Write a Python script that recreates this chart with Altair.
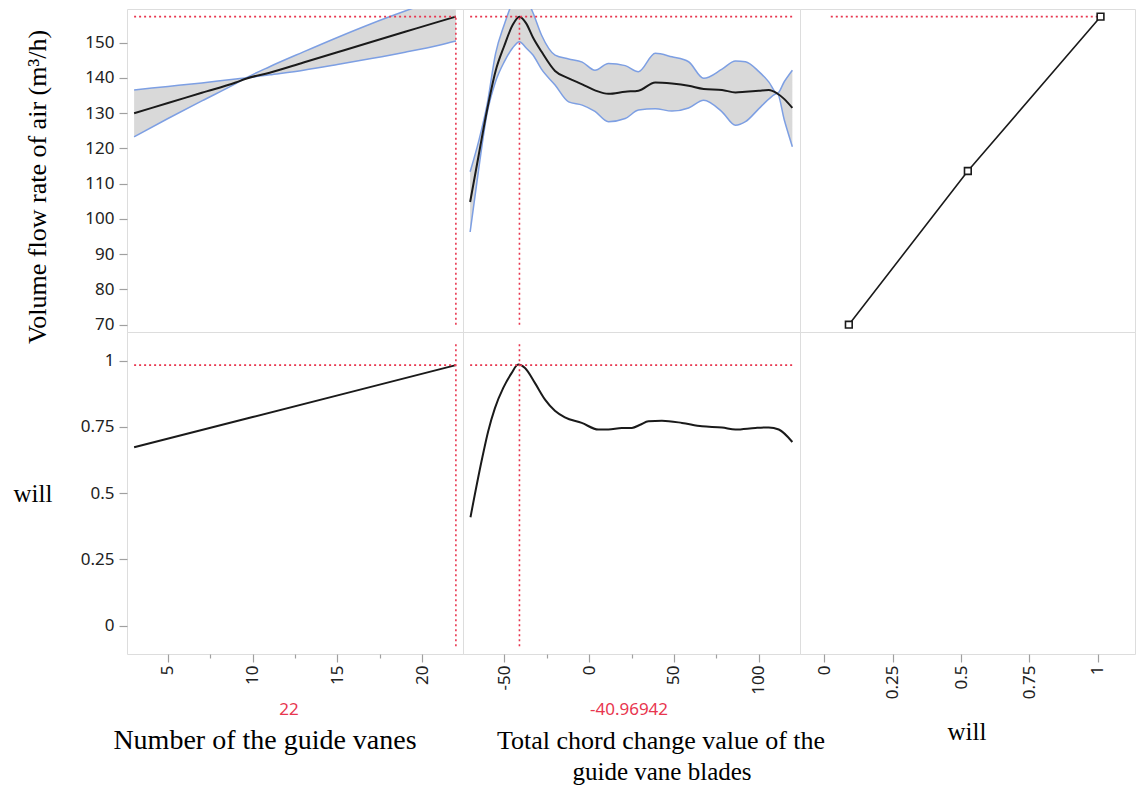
import altair as alt
import pandas as pd

# ---------------- data ----------------
# Panel 1: Number of the guide vanes
vanes_x = [3, 5, 7, 9, 9.6, 11, 13, 15, 17, 19, 21, 22]
vanes_flow = [130.0, 132.9, 135.8, 138.7, 139.8, 141.5, 144.4, 147.3, 150.2, 153.1, 156.0, 157.4]
vanes_edge1 = [136.6, 137.6, 138.6, 139.7, 140.0, 140.9, 142.2, 143.8, 145.5, 147.3, 149.3, 150.5]
vanes_edge2 = [123.3, 128.5, 133.5, 138.4, 140.0, 143.2, 147.4, 151.5, 155.4, 159.0, 162.4, 164.3]
vanes_will_x = [3, 10, 16, 22]
vanes_will = [0.673, 0.787, 0.885, 0.983]

# Panel 2: Total chord change value of the guide vane blades
chord_x = [-70, -65, -60, -55, -50, -45, -41, -37, -33, -28, -20, -12, -4, 3.5, 11.4,
           21.3, 29.1, 39, 48.8, 58.6, 67.5, 78.3, 86.2, 92.1, 100, 105.8, 110.8, 115, 119.7]
chord_flow = [104.8, 118.0, 131.0, 142.0, 149.0, 155.0, 157.4, 155.5, 151.5, 147.5, 142.0, 139.9, 138.2, 136.5, 135.5,
              136.1, 136.4, 138.7, 138.4, 137.8, 136.9, 136.6, 135.9, 136.1, 136.4, 136.6, 135.6, 134.0, 131.5]
chord_lower = [96.3, 114.0, 130.0, 139.0, 144.5, 148.5, 150.3, 148.5, 146.5, 142.5, 138.0, 133.2, 132.3, 130.5, 127.6,
               128.5, 130.9, 131.3, 130.6, 131.5, 133.7, 130.4, 126.6, 127.6, 131.3, 134.0, 135.6, 128.0, 120.5]
chord_upper = [113.4, 122.0, 132.5, 147.0, 155.0, 161.5, 164.5, 162.5, 158.5, 152.2, 146.5, 145.4, 144.5, 142.2, 144.1,
               143.5, 141.8, 147.0, 146.0, 144.6, 139.9, 142.5, 144.8, 144.6, 141.8, 138.9, 135.6, 139.0, 142.2]
chord_will_x = [-69.8, -63.3, -59.4, -55.4, -50.5, -45.6, -41.7, -37.7, -31.8, -25.9, -20.1, -14.2, -4.3, 5.5,
                11.4, 19.3, 25.2, 30.1, 35.0, 42.9, 54.7, 66.5, 78.3, 86.2, 98, 105.8, 111.7, 119.7]
chord_will = [0.409, 0.620, 0.733, 0.821, 0.897, 0.953, 0.985, 0.972, 0.915, 0.853, 0.811, 0.786, 0.765, 0.740,
              0.740, 0.746, 0.746, 0.758, 0.771, 0.773, 0.765, 0.752, 0.748, 0.740, 0.746, 0.748, 0.740, 0.693]

# Panel 3: desirability ("will") versus volume flow rate
will_x = [0.09, 0.525, 1.01]
will_flow = [70.0, 113.6, 157.4]

# Current settings (red cross-hairs)
current_vanes = 22
current_chord = -40.96942
current_flow = 157.4
current_will = 0.983
current_labels = ["22", "-40.96942"]

# tick values
flow_ticks = [70, 80, 90, 100, 110, 120, 130, 140, 150]
will_ticks = [0, 0.25, 0.5, 0.75, 1]
vanes_ticks = [5, 7.5, 10, 12.5, 15, 17.5, 20]
chord_ticks = [-50, -25, 0, 25, 50, 75, 100]

# ---------------- styling ----------------
RED = "#e8364f"
BLUE = "#7d9fe3"
BAND = "#d9d9d9"
LBL = "#222222"
SERIF = "Liberation Serif"
SANS = "Noto Sans"

W1, W2, W3 = 336, 337, 335
H1, H2 = 323, 322

xs_vanes = alt.Scale(domain=[2.58, 22.42], nice=False, zero=False)
xs_chord = alt.Scale(domain=[-74.2, 124.2], nice=False, zero=False)
xs_will = alt.Scale(domain=[-0.0885, 1.136], nice=False, zero=False)
ys_flow = alt.Scale(domain=[67.93, 159.57], nice=False, zero=False)
ys_will = alt.Scale(domain=[-0.107, 1.108], nice=False, zero=False)


def yaxis(values):
    return alt.Axis(values=values, labelExpr="'' + datum.value", title=None, grid=False, domain=False,
                    tickSize=8, tickColor="#a0a0a0", tickWidth=1.2, labelPadding=5,
                    labelFont=SANS, labelFontSize=17, labelColor=LBL)


def xaxis(values, test):
    return alt.Axis(values=values, title=None, grid=False, domain=False,
                    labelAngle=270, labelPadding=3,
                    labelExpr=f"({test}) ? ('' + datum.value) : ''",
                    tickSize={"condition": {"test": test, "value": 8}, "value": 4},
                    tickColor="#a0a0a0", tickWidth=1.2,
                    labelFont=SANS, labelFontSize=17, labelColor=LBL)


def enc_x(field, scale, axis):
    return alt.X(field, type="quantitative", scale=scale, axis=axis)


def enc_y(field, scale, axis):
    return alt.Y(field, type="quantitative", scale=scale, axis=axis)


def red_rules(df, xsc, ysc, xax, yax):
    return alt.Chart(df).mark_rule(color=RED, strokeDash=[2, 3], strokeWidth=1.6).encode(
        x=enc_x("x", xsc, xax), x2="x2:Q", y=enc_y("y", ysc, yax), y2="y2:Q")


def label(text, x, y, size, font=SERIF, color="black", angle=0):
    return alt.Chart(pd.DataFrame({"t": [text]})).mark_text(
        font=font, fontSize=size, color=color, angle=angle, align="center", baseline="middle").encode(
        x=alt.value(x), y=alt.value(y), text="t:N")


# ---------------- panel 1 top ----------------
p1_df = pd.DataFrame({"x": vanes_x, "m": vanes_flow, "a": vanes_edge1, "b": vanes_edge2})
ax_y_flow = yaxis(flow_ticks)
p1_band = alt.Chart(p1_df).mark_area(color=BAND, opacity=1, clip=True, interpolate="monotone").encode(
    x=enc_x("x", xs_vanes, None), y=enc_y("a", ys_flow, ax_y_flow), y2="b:Q")
p1_e1 = alt.Chart(p1_df).mark_line(color=BLUE, strokeWidth=1.5, clip=True, interpolate="monotone").encode(
    x=enc_x("x", xs_vanes, None), y=enc_y("a", ys_flow, ax_y_flow))
p1_e2 = alt.Chart(p1_df).mark_line(color=BLUE, strokeWidth=1.5, clip=True, interpolate="monotone").encode(
    x=enc_x("x", xs_vanes, None), y=enc_y("b", ys_flow, ax_y_flow))
p1_m = alt.Chart(p1_df).mark_line(color="#1a1a1a", strokeWidth=2, interpolate="monotone").encode(
    x=enc_x("x", xs_vanes, None), y=enc_y("m", ys_flow, ax_y_flow))
p1_rules = red_rules(pd.DataFrame({
    "x": [min(vanes_x), current_vanes], "x2": [max(vanes_x), current_vanes],
    "y": [current_flow, 70], "y2": [current_flow, current_flow]}), xs_vanes, ys_flow, None, ax_y_flow)
p1_title = label("Volume flow rate of air (m³/h)", -89, 178, 26, angle=270)
p1 = alt.layer(p1_band, p1_e1, p1_e2, p1_m, p1_rules, p1_title).properties(width=W1, height=H1)

# ---------------- panel 2 top ----------------
p2_df = pd.DataFrame({"x": chord_x, "m": chord_flow, "lo": chord_lower, "hi": chord_upper})
p2_band = alt.Chart(p2_df).mark_area(color=BAND, opacity=1, clip=True, interpolate="monotone").encode(
    x=enc_x("x", xs_chord, None), y=enc_y("lo", ys_flow, None), y2="hi:Q")
p2_lo = alt.Chart(p2_df).mark_line(color=BLUE, strokeWidth=1.5, clip=True, interpolate="monotone").encode(
    x=enc_x("x", xs_chord, None), y=enc_y("lo", ys_flow, None))
p2_hi = alt.Chart(p2_df).mark_line(color=BLUE, strokeWidth=1.5, clip=True, interpolate="monotone").encode(
    x=enc_x("x", xs_chord, None), y=enc_y("hi", ys_flow, None))
p2_m = alt.Chart(p2_df).mark_line(color="#1a1a1a", strokeWidth=2, interpolate="monotone").encode(
    x=enc_x("x", xs_chord, None), y=enc_y("m", ys_flow, None))
p2_rules = red_rules(pd.DataFrame({
    "x": [min(chord_x), current_chord], "x2": [max(chord_x), current_chord],
    "y": [current_flow, 70], "y2": [current_flow, current_flow]}), xs_chord, ys_flow, None, None)
p2 = alt.layer(p2_band, p2_lo, p2_hi, p2_m, p2_rules).properties(width=W2, height=H1)

# ---------------- panel 3 top ----------------
p3_df = pd.DataFrame({"x": will_x, "y": will_flow})
p3_line = alt.Chart(p3_df).mark_line(color="#1a1a1a", strokeWidth=1.6).encode(
    x=enc_x("x", xs_will, None), y=enc_y("y", ys_flow, None))
p3_pts = alt.Chart(p3_df).mark_point(shape="square", filled=True, fill="white", stroke="#1a1a1a",
                                     strokeWidth=1.6, size=45, opacity=1).encode(
    x=enc_x("x", xs_will, None), y=enc_y("y", ys_flow, None))
p3_rules = red_rules(pd.DataFrame({"x": [0.024], "x2": [max(will_x)], "y": [current_flow], "y2": [current_flow]}),
                     xs_will, ys_flow, None, None)
p3 = alt.layer(p3_rules, p3_line, p3_pts).properties(width=W3, height=H1)

# ---------------- panel 1 bottom ----------------
ax_y_will = yaxis(will_ticks)
ax_x_vanes = xaxis(vanes_ticks, "datum.value % 5 === 0")
p4_df = pd.DataFrame({"x": vanes_will_x, "y": vanes_will})
p4_line = alt.Chart(p4_df).mark_line(color="#1a1a1a", strokeWidth=2).encode(
    x=enc_x("x", xs_vanes, ax_x_vanes), y=enc_y("y", ys_will, ax_y_will))
p4_rules = red_rules(pd.DataFrame({
    "x": [min(vanes_x), current_vanes], "x2": [max(vanes_x), current_vanes],
    "y": [current_will, -0.078], "y2": [current_will, 1.066]}), xs_vanes, ys_will, ax_x_vanes, ax_y_will)
p4_red = label(current_labels[0], 162, 378, 17, font=SANS, color=RED)
p4_title = label("Number of the guide vanes", 138, 409, 28)
p4_ytitle = label("will", -94, 162, 25)
p4 = alt.layer(p4_line, p4_rules, p4_red, p4_title, p4_ytitle).properties(width=W1, height=H2)

# ---------------- panel 2 bottom ----------------
ax_x_chord = xaxis(chord_ticks, "datum.value % 50 === 0")
p5_df = pd.DataFrame({"x": chord_will_x, "y": chord_will})
p5_line = alt.Chart(p5_df).mark_line(color="#1a1a1a", strokeWidth=2, interpolate="monotone").encode(
    x=enc_x("x", xs_chord, ax_x_chord), y=enc_y("y", ys_will, None))
p5_rules = red_rules(pd.DataFrame({
    "x": [min(chord_x), current_chord], "x2": [max(chord_x), current_chord],
    "y": [current_will, -0.078], "y2": [current_will, 1.066]}), xs_chord, ys_will, ax_x_chord, None)
p5_red = label(current_labels[1], 166, 378, 17, font=SANS, color=RED)
p5_title1 = label("Total chord change value  of the", 198, 409, 26)
p5_title2 = label("guide vane blades", 199, 440, 25)
p5 = alt.layer(p5_line, p5_rules, p5_red, p5_title1, p5_title2).properties(width=W2, height=H2)

# ---------------- panel 3 bottom (empty) ----------------
ax_x_will = xaxis(will_ticks, "true")
p6_blank = alt.Chart(pd.DataFrame({"x": [0.5], "y": [0.5]})).mark_point(opacity=0).encode(
    x=enc_x("x", xs_will, ax_x_will), y=enc_y("y", ys_will, None))
p6_title = label("will", 167, 400, 25)
p6 = alt.layer(p6_blank, p6_title).properties(width=W3, height=H2)

chart = alt.concat(p1, p2, p3, p4, p5, p6, columns=3, spacing=0, bounds="flush").properties(
    padding={"left": 5, "top": 0, "right": 0, "bottom": 0}
).configure_view(stroke="#a0a0a0", strokeWidth=1.5, fill="white").configure(background="white")

chart.save("out.html", embed_options={"renderer": "svg", "actions": False})
